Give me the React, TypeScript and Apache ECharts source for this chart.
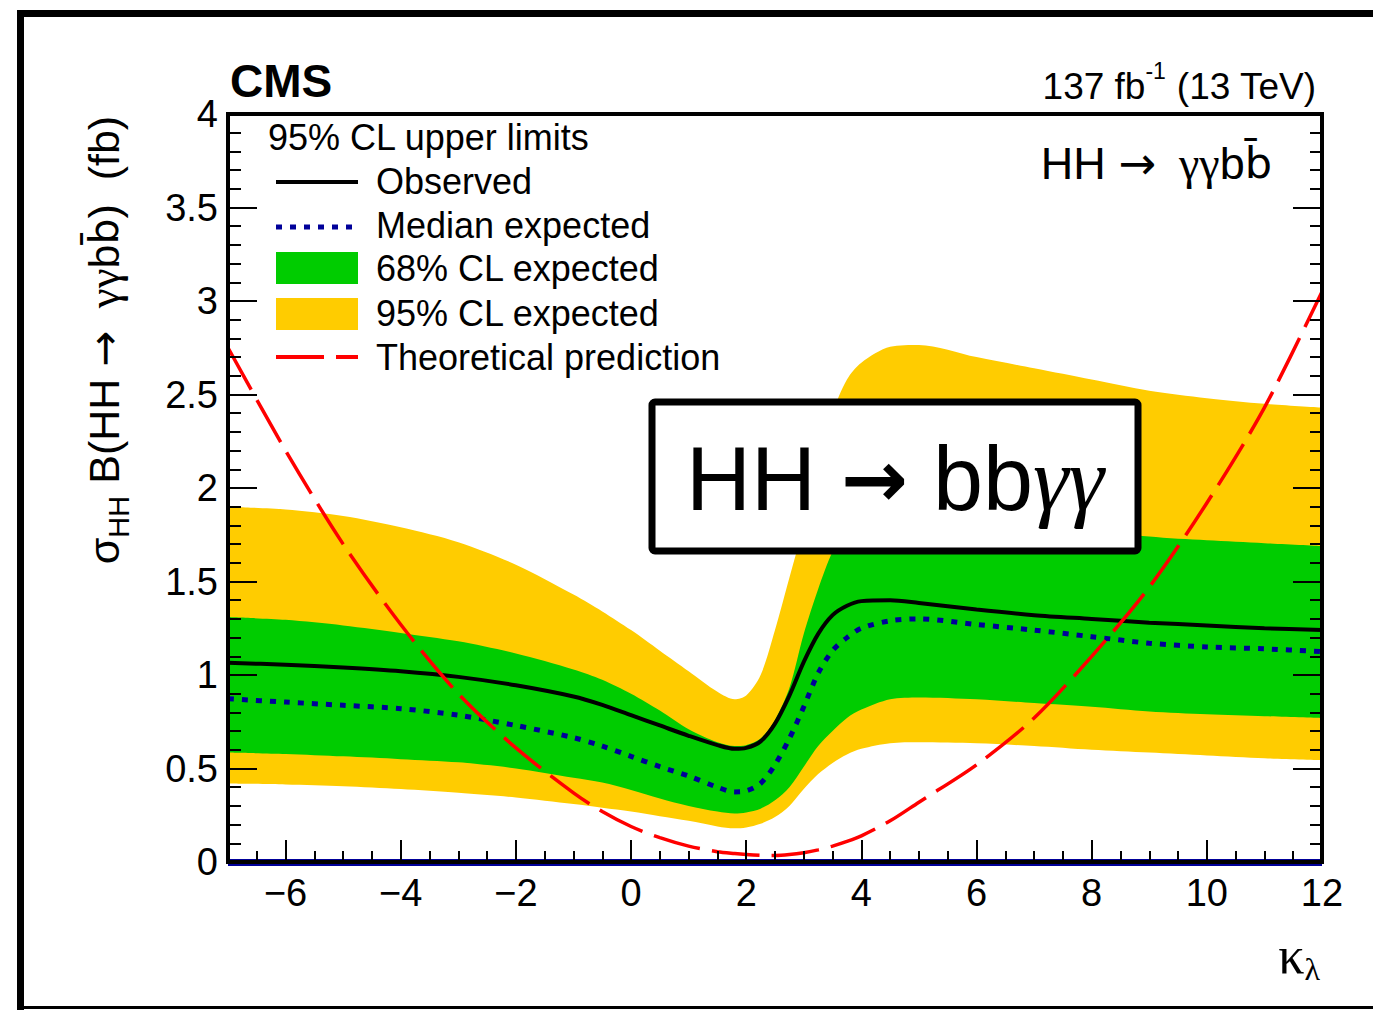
import React, { useEffect, useRef } from "react";
import * as echarts from "echarts";

// kappa_lambda scan points
const kappa = [-7, -6, -5, -4, -3, -2, -1, -0.5, 0, 0.5, 1, 1.5, 1.8, 2, 2.25, 2.5, 2.75, 3, 3.25, 3.5, 3.75, 4, 4.5, 5, 6, 7, 8, 9, 10, 11, 12];

// 95% CL upper limits on sigma_HH x B (fb)
const observed = [1.065, 1.055, 1.04, 1.02, 0.99, 0.945, 0.885, 0.84, 0.785, 0.73, 0.675, 0.625, 0.605, 0.61, 0.645, 0.74, 0.89, 1.07, 1.22, 1.32, 1.37, 1.395, 1.4, 1.385, 1.35, 1.32, 1.3, 1.28, 1.265, 1.25, 1.24];
const expected = [0.873, 0.855, 0.838, 0.82, 0.785, 0.73, 0.665, 0.62, 0.565, 0.51, 0.46, 0.4, 0.375, 0.38, 0.42, 0.52, 0.66, 0.83, 1.01, 1.13, 1.2, 1.25, 1.29, 1.3, 1.27, 1.24, 1.205, 1.17, 1.15, 1.14, 1.125];
const up68 = [1.31, 1.295, 1.265, 1.225, 1.18, 1.115, 1.03, 0.975, 0.9, 0.81, 0.71, 0.64, 0.62, 0.625, 0.66, 0.76, 0.93, 1.22, 1.46, 1.66, 1.79, 1.86, 1.92, 1.93, 1.89, 1.83, 1.78, 1.74, 1.72, 1.705, 1.69];
const lo68 = [0.585, 0.578, 0.565, 0.55, 0.533, 0.5, 0.45, 0.425, 0.385, 0.34, 0.3, 0.27, 0.26, 0.265, 0.285, 0.33, 0.4, 0.51, 0.62, 0.7, 0.77, 0.815, 0.87, 0.88, 0.87, 0.85, 0.83, 0.805, 0.79, 0.78, 0.77];
const up95 = [1.9, 1.885, 1.85, 1.79, 1.71, 1.59, 1.43, 1.34, 1.24, 1.13, 1.02, 0.91, 0.87, 0.89, 1.0, 1.24, 1.52, 1.8, 2.1, 2.4, 2.58, 2.67, 2.755, 2.765, 2.7, 2.64, 2.58, 2.52, 2.48, 2.45, 2.43];
const lo95 = [0.42, 0.415, 0.405, 0.39, 0.37, 0.345, 0.31, 0.29, 0.27, 0.245, 0.22, 0.19, 0.18, 0.185, 0.205, 0.24, 0.3, 0.39, 0.47, 0.53, 0.575, 0.605, 0.635, 0.64, 0.635, 0.62, 0.6, 0.585, 0.57, 0.555, 0.545];
// Theoretical prediction
const theory = [2.75, 2.2, 1.7, 1.27, 0.9, 0.61, 0.37, 0.27, 0.19, 0.13, 0.085, 0.055, 0.045, 0.04, 0.036, 0.035, 0.04, 0.05, 0.065, 0.085, 0.11, 0.14, 0.22, 0.32, 0.52, 0.77, 1.1, 1.47, 1.92, 2.43, 3.05];

const xTickValues = [-6, -4, -2, 0, 2, 4, 6, 8, 10, 12];

const legendLabels = ["Observed", "Median expected", "68% CL expected", "95% CL expected", "Theoretical prediction"];

const SANS = "'Liberation Sans', Arial, Helvetica, sans-serif";
const SERIF = "'Liberation Serif', 'Times New Roman', serif";
const DEJAVU = "'DejaVu Sans', sans-serif";

const YELLOW = "#ffcc00";
const GREEN = "#00cc00";
const NAVY = "#000099";
const RED = "#ff0000";

const pairs = (ys: number[]) => kappa.map((k, i) => [k, ys[i]]);

export default function App() {
  const ref = useRef<HTMLDivElement>(null);

  useEffect(() => {
    if (!ref.current) return;
    const chart = echarts.init(ref.current, null, { renderer: "svg" });

    // Bands are layered from the top edge down: each edge is filled to the axis floor.
    const edge = (name: string, ys: number[], color: string) => ({
      name,
      type: "line",
      data: pairs(ys),
      smooth: 0.3,
      symbol: "none",
      silent: true,
      lineStyle: { opacity: 0, width: 0 },
      areaStyle: { color, opacity: 1, origin: "start" },
    });

    const legendY = [181, 225, 268, 313, 357];
    const legendX0 = 276;
    const legendX1 = 358;

    const graphics: any[] = [
      // outer frame
      { type: "rect", z: 100, shape: { x: 17, y: 10, width: 1356, height: 7 }, style: { fill: "#000" } },
      { type: "rect", z: 100, shape: { x: 17, y: 10, width: 7, height: 1000 }, style: { fill: "#000" } },
      { type: "rect", z: 100, shape: { x: 17, y: 1006, width: 1356, height: 3 }, style: { fill: "#000" } },
      // header texts
      {
        type: "text", z: 100, x: 230, y: 81,
        style: { text: "CMS", fill: "#000", font: `bold 46px ${SANS}`, textAlign: "left", textVerticalAlign: "middle" },
      },
      {
        type: "text", z: 100, x: 1316, y: 82,
        style: {
          text: "{a|137 fb}{s|-1}{a| (13 TeV)}",
          textAlign: "right", textVerticalAlign: "middle",
          rich: {
            a: { fontSize: 37, fontFamily: SANS, fill: "#000", lineHeight: 46, verticalAlign: "bottom" },
            s: { fontSize: 23, fontFamily: SANS, fill: "#000", lineHeight: 46, verticalAlign: "top" },
          },
        },
      },
      {
        type: "text", z: 100, x: 1272, y: 163,
        style: {
          text: "{a|HH }{r|\u2192}{g|  \u03b3\u03b3}{a|b}{o|b\u0304}",
          textAlign: "right", textVerticalAlign: "middle",
          rich: {
            a: { fontSize: 45, fontFamily: SANS, fill: "#000", lineHeight: 52 },
            r: { fontSize: 45, fontFamily: DEJAVU, fill: "#000", lineHeight: 52 },
            g: { fontSize: 46, fontFamily: SERIF, fill: "#000", lineHeight: 52 },
            o: { fontSize: 43, fontFamily: DEJAVU, fill: "#000", lineHeight: 52 },
          },
        },
      },
      // legend header
      {
        type: "text", z: 100, x: 268, y: 137,
        style: { text: "95% CL upper limits", fill: "#000", font: `36px ${SANS}`, textAlign: "left", textVerticalAlign: "middle" },
      },
      // legend samples
      { type: "line", z: 100, shape: { x1: legendX0, y1: legendY[0] + 1, x2: legendX1, y2: legendY[0] + 1 }, style: { stroke: "#000", lineWidth: 4 } },
      { type: "line", z: 100, shape: { x1: legendX0, y1: legendY[1] + 2, x2: legendX1, y2: legendY[1] + 2 }, style: { stroke: NAVY, lineWidth: 5, lineDash: [6, 8] } },
      { type: "rect", z: 100, shape: { x: legendX0, y: legendY[2] - 16, width: legendX1 - legendX0, height: 32 }, style: { fill: GREEN } },
      { type: "rect", z: 100, shape: { x: legendX0, y: legendY[3] - 15, width: legendX1 - legendX0, height: 32 }, style: { fill: YELLOW } },
      { type: "line", z: 100, shape: { x1: legendX0, y1: legendY[4], x2: legendX1, y2: legendY[4] }, style: { stroke: RED, lineWidth: 4, lineDash: [48, 12] } },
      ...legendLabels.map((t, i) => ({
        type: "text", z: 100, x: 376, y: legendY[i],
        style: { text: t, fill: "#000", font: `36px ${SANS}`, textAlign: "left", textVerticalAlign: "middle" },
      })),
      // channel box
      {
        type: "rect", z: 100,
        shape: { x: 652, y: 402, width: 486, height: 149, r: 3 },
        style: { fill: "#fff", stroke: "#000", lineWidth: 7 },
      },
      {
        type: "text", z: 101, x: 895, y: 479,
        style: {
          text: "{a|HH }{r|\u2192}{a| bb}{g|\u03b3\u03b3}",
          textAlign: "center", textVerticalAlign: "middle",
          rich: {
            a: { fontSize: 90, fontFamily: SANS, fill: "#000", lineHeight: 104 },
            r: { fontSize: 80, fontFamily: DEJAVU, fontWeight: "bold", fill: "#000", lineHeight: 104 },
            g: { fontSize: 90, fontFamily: SERIF, fontStyle: "italic", fill: "#000", lineHeight: 104 },
          },
        },
      },
      // axis titles
      {
        type: "text", z: 100, x: 104, y: 340, rotation: Math.PI / 2,
        style: {
          text: "{a|\u03c3}{s|HH}{a| B(HH }{r|\u2192}{g|  \u03b3\u03b3}{a|b}{o|b\u0304}{a|)  (fb)}",
          textAlign: "center", textVerticalAlign: "middle",
          rich: {
            a: { fontSize: 43, fontFamily: SANS, fill: "#000", lineHeight: 58, verticalAlign: "middle" },
            r: { fontSize: 43, fontFamily: DEJAVU, fill: "#000", lineHeight: 58, verticalAlign: "middle" },
            g: { fontSize: 45, fontFamily: SERIF, fill: "#000", lineHeight: 58, verticalAlign: "middle" },
            o: { fontSize: 41, fontFamily: DEJAVU, fill: "#000", lineHeight: 58, verticalAlign: "middle" },
            s: { fontSize: 29, fontFamily: SANS, fill: "#000", lineHeight: 58, verticalAlign: "bottom" },
          },
        },
      },
      {
        type: "text", z: 100, x: 1320, y: 955,
        style: {
          text: "{k|\u03ba}{l|\u03bb}",
          textAlign: "right", textVerticalAlign: "middle",
          rich: {
            k: { fontSize: 52, fontFamily: SERIF, fill: "#000", lineHeight: 60, verticalAlign: "middle" },
            l: { fontSize: 32, fontFamily: SERIF, fill: "#000", lineHeight: 60, verticalAlign: "bottom" },
          },
        },
      },
    ];

    const tickLine = { color: "#000", width: 2 };

    const option: any = {
      animation: false,
      backgroundColor: "#fff",
      grid: {
        left: 228, right: 51, top: 114, bottom: 148,
        show: true, borderColor: "#000", borderWidth: 4, backgroundColor: "transparent", z: 10,
      },
      xAxis: [
        {
          type: "value", min: -7, max: 12, z: 11,
          axisLine: { show: false, onZero: false },
          splitLine: { show: false },
          axisTick: { show: true, inside: true, length: 22, lineStyle: tickLine, customValues: xTickValues },
          axisLabel: {
            customValues: xTickValues,
            fontSize: 38, fontFamily: SANS, color: "#000", margin: 12,
            formatter: (v: number) => (v < 0 ? "\u2212" + Math.abs(v) : String(v)),
          },
        },
        {
          type: "value", min: -7, max: 12, interval: 0.5, z: 11, position: "bottom",
          axisLine: { show: false, onZero: false },
          splitLine: { show: false },
          axisLabel: { show: false },
          axisTick: { show: true, inside: true, length: 11, lineStyle: tickLine },
        },
      ],
      yAxis: [
        {
          type: "value", min: 0, max: 4, interval: 0.5, position: "left", z: 11,
          axisLine: { show: false, onZero: false },
          splitLine: { show: false },
          axisTick: { show: true, inside: true, length: 29, lineStyle: tickLine },
          minorTick: { show: true, splitNumber: 5, length: 13, lineStyle: tickLine },
          axisLabel: { fontSize: 38, fontFamily: SANS, color: "#000", margin: 10 },
        },
        {
          type: "value", min: 0, max: 4, interval: 0.5, position: "right", z: 11,
          axisLine: { show: false, onZero: false },
          splitLine: { show: false },
          axisTick: { show: true, inside: true, length: 29, lineStyle: tickLine },
          minorTick: { show: true, splitNumber: 5, length: 12, lineStyle: tickLine },
          axisLabel: { show: false },
        },
      ],
      series: [
        edge("95% CL expected", up95, YELLOW),
        edge("68% CL expected", up68, GREEN),
        edge("68% CL lower edge", lo68, YELLOW),
        edge("95% CL lower edge", lo95, "#ffffff"),
        {
          name: "Median expected",
          type: "line",
          data: pairs(expected),
          smooth: 0.3,
          symbol: "none",
          lineStyle: { color: NAVY, width: 5, type: [6, 8], cap: "butt" },
          markLine: {
            silent: true,
            symbol: "none",
            label: { show: false },
            lineStyle: { color: NAVY, width: 7, type: "solid" },
            data: [{ yAxis: 0 }],
          },
        },
        {
          name: "Observed",
          type: "line",
          data: pairs(observed),
          smooth: 0.3,
          symbol: "none",
          lineStyle: { color: "#000", width: 4 },
        },
        {
          name: "Theoretical prediction",
          type: "line",
          data: pairs(theory),
          smooth: 0.3,
          symbol: "none",
          lineStyle: { color: RED, width: 3.5, type: [48, 12] },
        },
      ],
      graphic: { elements: graphics },
    };

    chart.setOption(option);
    return () => chart.dispose();
  }, []);

  return (
    <div
      ref={ref}
      style={{ position: "fixed", left: 0, top: 0, width: 1373, height: 1010, background: "#fff" }}
    />
  );
}
